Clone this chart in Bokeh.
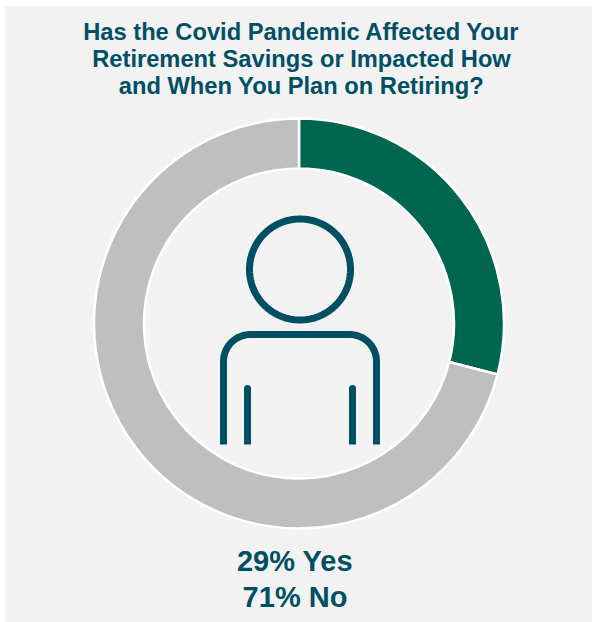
import numpy as np
from bokeh.core.properties import value
from bokeh.embed import file_html
from bokeh.models import ColumnDataSource, Range1d
from bokeh.plotting import figure
from bokeh.resources import INLINE

title_lines = [
    "Has the Covid Pandemic Affected Your",
    "Retirement Savings or Impacted How",
    "and When You Plan on Retiring?",
]
categories = ["Yes", "No"]
shares = [29, 71]
slice_colors = ["#00664F", "#BFBFBF"]

W, H = 592, 622
INK = "#004F63"
FONT = value("Liberation Sans")
CX, CY = 298.5, 323

# Page coordinates, with y growing downwards
p = figure(width=W, height=H, output_backend="svg", toolbar_location=None,
           x_range=Range1d(0, W), y_range=Range1d(H, 0),
           min_border=0, outline_line_color=None, background_fill_color="white",
           border_fill_color="white")
p.axis.visible = False
p.grid.visible = False

# Panel behind everything
p.quad(left=[5], right=[W], top=[6], bottom=[H], fill_color="#F2F2F2", line_color=None)

# Donut: clockwise from twelve o'clock
fractions = np.array(shares) / sum(shares)
ends = np.cumsum(fractions)
starts = ends - fractions
src = ColumnDataSource(dict(
    category=categories,
    start=np.pi / 2 - 2 * np.pi * ends,
    end=np.pi / 2 - 2 * np.pi * starts,
    color=slice_colors,
))
p.annular_wedge(x=CX, y=CY, inner_radius=155, outer_radius=205,
                start_angle="start", end_angle="end", direction="anticlock", source=src,
                fill_color="color", line_color="white", line_width=2.5)

# Person icon
STROKE = 7
theta = np.linspace(0, 2 * np.pi, 181)
p.line(299.5 + 50.5 * np.cos(theta), 269 + 50.5 * np.sin(theta),
       line_color=INK, line_width=STROKE)

left, right, top, bottom, r = 223, 376, 334, 444, 27
arc = np.linspace(0, np.pi / 2, 30)
body_x = np.concatenate([[left], left + r - r * np.cos(arc), right - r + r * np.sin(arc), [right]])
body_y = np.concatenate([[bottom], top + r - r * np.sin(arc), top + r - r * np.cos(arc), [bottom]])
p.line(body_x, body_y, line_color=INK, line_width=STROKE, line_join="round")

for arm_x in (247, 352):
    p.line([arm_x, arm_x], [444, 388], line_color=INK, line_width=STROKE)
    p.scatter([arm_x], [388], marker="circle", size=STROKE, fill_color=INK, line_color=None)

# Heading
p.text(x=[301] * 3, y=[31, 58, 85], text=title_lines, text_color=INK, text_font=FONT,
       text_font_style="bold", text_font_size="23.7px",
       text_align="center", text_baseline="middle")

# Result lines under the donut
results = [f"{s}% {c}" for s, c in zip(shares, categories)]
p.text(x=[294.5, 294.5], y=[560, 596], text=results, text_color=INK, text_font=FONT,
       text_font_style="bold", text_font_size="29px",
       text_align="center", text_baseline="middle")

open("out.html", "w").write(file_html(p, INLINE))
